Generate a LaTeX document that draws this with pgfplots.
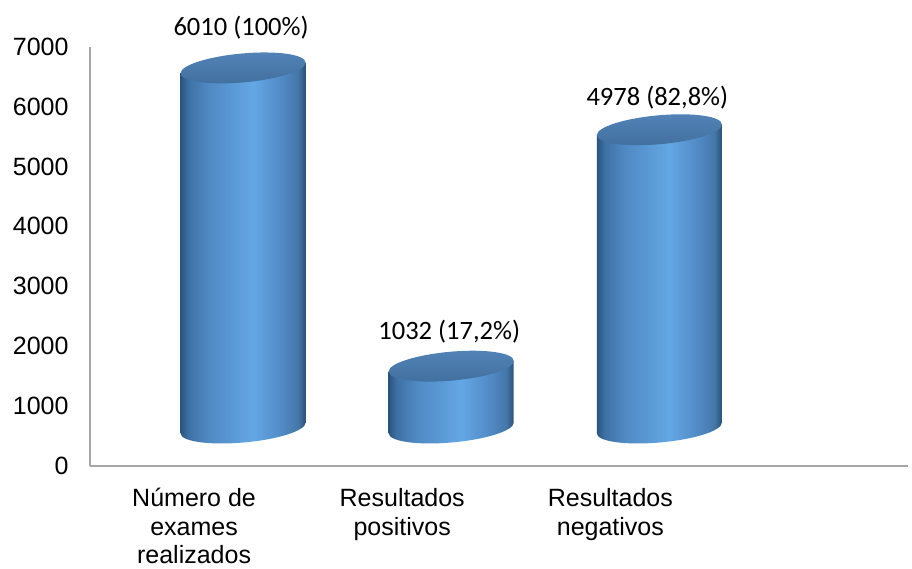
\documentclass[border=0pt]{standalone}
\usepackage{pgfplots}
\pgfplotsset{compat=1.18}
\usepackage{pgfplotstable}
\usepackage{fontspec}
\setmainfont{Liberation Sans}
\newfontfamily\calibri{Carlito}

\definecolor{axisgray}{HTML}{A6A6A6}
\definecolor{capA}{HTML}{5383B8}
\definecolor{capB}{HTML}{416F9E}
\definecolor{bodyA}{HTML}{2B547C}
\definecolor{bodyB}{HTML}{3E70A4}
\definecolor{bodyC}{HTML}{5089C3}
\definecolor{bodyD}{HTML}{63A7E5}
\definecolor{bodyE}{HTML}{4477A9}
\definecolor{bodyF}{HTML}{2C5175}

% left-to-right light band of the cylinder walls (path spans 25bp--75bp)
\pgfdeclarehorizontalshading{cylbody}{100bp}{%
  color(0bp)=(bodyA); color(25bp)=(bodyA); color(28bp)=(bodyB);
  color(36bp)=(bodyC); color(54bp)=(bodyD); color(66bp)=(bodyC);
  color(72bp)=(bodyE); color(75bp)=(bodyF); color(100bp)=(bodyF)}
% lid of each cylinder, darker towards the front
\pgfdeclareverticalshading{capshade}{100bp}{%
  color(0bp)=(capB); color(25bp)=(capB); color(75bp)=(capA); color(100bp)=(capA)}

\pgfdeclareplotmark{void}{}

% x: category, val: number of exams, pct: share, off: label lift
\pgfplotstableread{
x val pct off
0 6010 100 40
1 1032 17.2 35
2 4978 82.8 32
}\exames

% points per data unit on the y axis: 419.4pt for 0..7000
\def\ppu{0.0599143}
\def\rx{62.5}
\def\ry{14.5}

\begin{document}
\begin{tikzpicture}
\useasboundingbox (0,0) rectangle (912pt,569pt);
\begin{axis}[
  at={(90pt,103pt)}, anchor=south west,
  scale only axis, width=818pt, height=419.4pt,
  xmin=-0.5, xmax=3.43, ymin=0, ymax=7000,
  enlargelimits=false, clip=false,
  axis x line=bottom, axis y line=left,
  axis line style={-, draw=axisgray, line width=1.3pt},
  major tick length=0pt,
  ytick={0,1000,...,7000},
  xtick={0,1,2},
  xticklabels={{Número de\\exames\\realizados},{Resultados\\positivos},{Resultados\\negativos}},
  /pgf/number format/1000 sep={},
  /pgf/number format/assume math mode=true,
  tick label style={font=\fontsize{25}{28.5}\selectfont, text=black},
  yticklabel style={xshift=-18pt},
  xticklabel style={align=center, yshift=-19pt},
]
% cylinders: drawn at each point, standing on the floor 38pt above the axis
\addplot[
  scatter, only marks, mark=void,
  visualization depends on={rawy \as \val},
  scatter/@pre marker code/.code={%
    \pgfmathsetmacro{\h}{\val*\ppu}%
    \pgfscope
      \pgftransformshift{\pgfpoint{49pt}{38pt}}%
      \pgftransformyslant{0.085}%
      \pgfpathmoveto{\pgfpoint{-\rx pt}{0pt}}%
      \pgfpathlineto{\pgfpoint{-\rx pt}{-\h pt}}%
      \pgfpatharc{180}{360}{\rx pt and \ry pt}%
      \pgfpathlineto{\pgfpoint{\rx pt}{0pt}}%
      \pgfpathclose
      \pgfshadepath{cylbody}{0}%
      \pgfusepath{}%
      \pgfpathellipse{\pgfpointorigin}{\pgfpoint{\rx pt}{0pt}}{\pgfpoint{0pt}{\ry pt}}%
      \pgfshadepath{capshade}{0}%
      \pgfusepath{}%
    \endpgfscope
  },
  scatter/@post marker code/.code={},
] table[x=x, y=val] {\exames};
% value labels above the lids
\addplot[
  only marks, mark=none,
  visualization depends on={rawy \as \val},
  visualization depends on={\thisrow{pct} \as \pct},
  visualization depends on={\thisrow{off} \as \off},
  nodes near coords={\pgfmathprintnumber[fixed,precision=0]{\val}\ (\pgfmathprintnumber[fixed,use comma,precision=1]{\pct}\%)},
  every node near coord/.style={anchor=center, xshift=47pt, yshift={38pt+\off pt},
    font=\calibri\fontsize{26.5}{30}\selectfont, text=black},
] table[x=x, y=val] {\exames};
\end{axis}
\end{tikzpicture}
\end{document}
